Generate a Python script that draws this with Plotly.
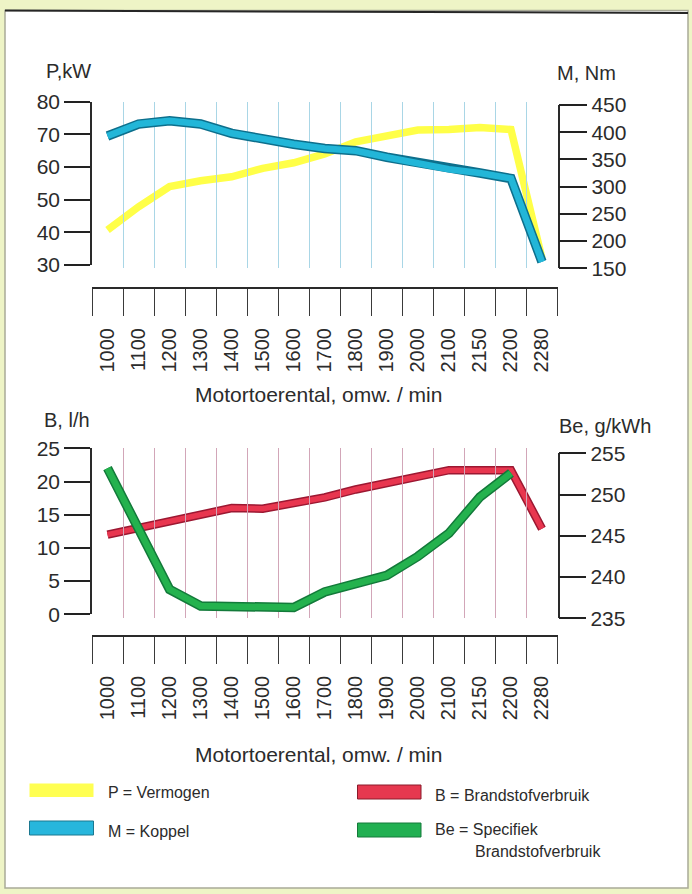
import plotly.graph_objects as go

# ---------------- data ----------------
rpm = ["1000", "1100", "1200", "1300", "1400", "1500", "1600", "1700",
       "1800", "1900", "2000", "2100", "2150", "2200", "2280"]
power_kw = [40.7, 47.8, 54.0, 55.8, 57.0, 59.6, 61.3, 64.0,
            67.7, 69.5, 71.3, 71.5, 72.1, 71.5, 32.0]
torque_nm = [393, 415, 421, 415, 398, 387, 378, 370,
             366, 354, 343, 332, 325, 315, 162]
fuel_lh = [12.0, 13.0, 14.0, 15.0, 16.0, 15.9, 16.7, 17.6,
           18.8, 19.7, 20.6, 21.7, 21.7, 21.7, 12.9]
spec_gkwh = [253.2, 246.0, 238.5, 236.5, 236.4, 236.4, 236.3, 238.2,
             239.2, 240.2, 242.5, 245.3, 249.7, 252.6, None]

p_ticks = [30, 40, 50, 60, 70, 80]
m_ticks = [150, 200, 250, 300, 350, 400, 450]
b_ticks = [0, 5, 10, 15, 20, 25]
be_ticks = [235, 240, 245, 250, 255]

W, H = 692, 894
FONT = "Liberation Sans, Arial, Helvetica, sans-serif"
TXT = "#2b2b2b"


def px(x):
    return x / W


def py(y):
    return 1 - y / H


fig = go.Figure()

# torque (outline + fill)
fig.add_trace(go.Scatter(x=rpm, y=torque_nm, xaxis="x", yaxis="y2", mode="lines",
                         line=dict(color="#0d6f8c", width=9.5), hoverinfo="skip", showlegend=False))
fig.add_trace(go.Scatter(x=rpm, y=torque_nm, xaxis="x", yaxis="y2", mode="lines",
                         line=dict(color="#22b6d8", width=6.5), name="M = Koppel", showlegend=False))
# power
fig.add_trace(go.Scatter(x=rpm, y=power_kw, xaxis="x", yaxis="y", mode="lines",
                         line=dict(color="#ffff48", width=7.5), name="P = Vermogen", showlegend=False))

# fuel consumption
fig.add_trace(go.Scatter(x=rpm, y=fuel_lh, xaxis="x2", yaxis="y3", mode="lines",
                         line=dict(color="#9c1832", width=8.5), hoverinfo="skip", showlegend=False))
fig.add_trace(go.Scatter(x=rpm, y=fuel_lh, xaxis="x2", yaxis="y3", mode="lines",
                         line=dict(color="#e8364f", width=5.5), name="B = Brandstofverbruik", showlegend=False))
# specific fuel consumption
fig.add_trace(go.Scatter(x=rpm, y=spec_gkwh, xaxis="x2", yaxis="y4", mode="lines",
                         line=dict(color="#137a3a", width=9.5), hoverinfo="skip", showlegend=False))
fig.add_trace(go.Scatter(x=rpm, y=spec_gkwh, xaxis="x2", yaxis="y4", mode="lines",
                         line=dict(color="#24b24e", width=6.5), name="Be = Specifiek Brandstofverbruik",
                         showlegend=False))

xdom = [px(92), px(557.5)]


def xaxis_cfg(pos_y, gridcolor):
    return dict(
        domain=xdom, anchor="free", position=py(pos_y), type="category",
        categoryorder="array", categoryarray=rpm, range=[-0.5, len(rpm) - 0.5],
        tickson="boundaries", ticks="outside", ticklen=27, tickwidth=1.3, tickcolor="#3a3a3a",
        showline=True, linecolor="#2a2a2a", linewidth=1.5,
        showgrid=True, gridcolor=gridcolor, gridwidth=1,
        tickangle=-90, tickfont=dict(size=20, color=TXT, family=FONT),
        ticklabelstandoff=31, zeroline=False, fixedrange=True, automargin=False,
    )


def yaxis_cfg(top, bottom, rng, ticks, side, anchor, ticklen):
    return dict(
        domain=[py(bottom), py(top)], range=rng, tickvals=ticks, anchor=anchor, side=side,
        ticks="outside", ticklen=ticklen, tickwidth=1.6, tickcolor="#222",
        showline=True, linecolor="#2a2a2a", linewidth=1.5,
        showgrid=False, zeroline=False, tickfont=dict(size=21, color=TXT, family=FONT),
        fixedrange=True, automargin=False,
    )


shapes = [
    # white panel
    dict(type="rect", xref="paper", yref="paper", x0=px(5), x1=px(688), y0=py(888), y1=py(10.5),
         fillcolor="white", line=dict(color="#a9aa98", width=1.5), layer="below"),
    dict(type="line", xref="paper", yref="paper", x0=px(5), x1=px(688), y0=py(10.5), y1=py(13),
         line=dict(color="#262626", width=2)),
    # legend swatches
    dict(type="rect", xref="paper", yref="paper", x0=px(29.5), x1=px(93.5), y0=py(797), y1=py(783.5),
         fillcolor="#ffff52", line=dict(width=0)),
    dict(type="rect", xref="paper", yref="paper", x0=px(29.5), x1=px(93.5), y0=py(835), y1=py(821),
         fillcolor="#27b6dc", line=dict(color="#1b7890", width=1)),
    dict(type="rect", xref="paper", yref="paper", x0=px(357.5), x1=px(421), y0=py(799), y1=py(785),
         fillcolor="#e6384f", line=dict(color="#8a1a2a", width=1)),
    dict(type="rect", xref="paper", yref="paper", x0=px(357.5), x1=px(421), y0=py(837), y1=py(823),
         fillcolor="#22b052", line=dict(color="#157a3a", width=1)),
]


def ann(text, x, y, size, xanchor="left"):
    return dict(text=text, x=px(x), y=py(y), xref="paper", yref="paper", showarrow=False,
                xanchor=xanchor, yanchor="middle", font=dict(size=size, color=TXT, family=FONT))


annotations = [
    ann("P,kW", 44, 71, 20),
    ann("M, Nm", 555, 73, 20),
    ann("B, l/h", 42, 420, 20),
    ann("Be, g/kWh", 557, 426, 20),
    ann("Motortoerental, omw. / min", 318, 394, 21, "center"),
    ann("Motortoerental, omw. / min", 318, 754, 21, "center"),
    ann("P = Vermogen", 106, 792.5, 16),
    ann("M = Koppel", 106, 831.5, 16),
    ann("B = Brandstofverbruik", 433, 795, 16),
    ann("Be = Specifiek", 433, 829.5, 16),
    ann("Brandstofverbruik", 473, 851.5, 16),
]

fig.update_layout(
    width=W, height=H, autosize=False,
    margin=dict(l=0, r=0, t=0, b=0, pad=0, autoexpand=False),
    paper_bgcolor="#eef4c6", plot_bgcolor="rgba(0,0,0,0)",
    font=dict(family=FONT, color=TXT),
    showlegend=False,
    xaxis=xaxis_cfg(288.3, "#a9d6e6"),
    xaxis2=xaxis_cfg(636, "#d2a6b8"),
    yaxis=yaxis_cfg(101.7, 265, [30, 80], p_ticks, "left", "x", 26),
    yaxis2=yaxis_cfg(105, 268.3, [150, 450], m_ticks, "right", "x", 28),
    yaxis3=yaxis_cfg(448.3, 614.3, [0, 25], b_ticks, "left", "x2", 26),
    yaxis4=yaxis_cfg(453.3, 618.3, [235, 255], be_ticks, "right", "x2", 27),
    shapes=shapes,
    annotations=annotations,
)

fig.write_html("out.html", config={"displayModeBar": False},
               post_script="document.body.style.margin='0';document.body.style.overflow='hidden';")
